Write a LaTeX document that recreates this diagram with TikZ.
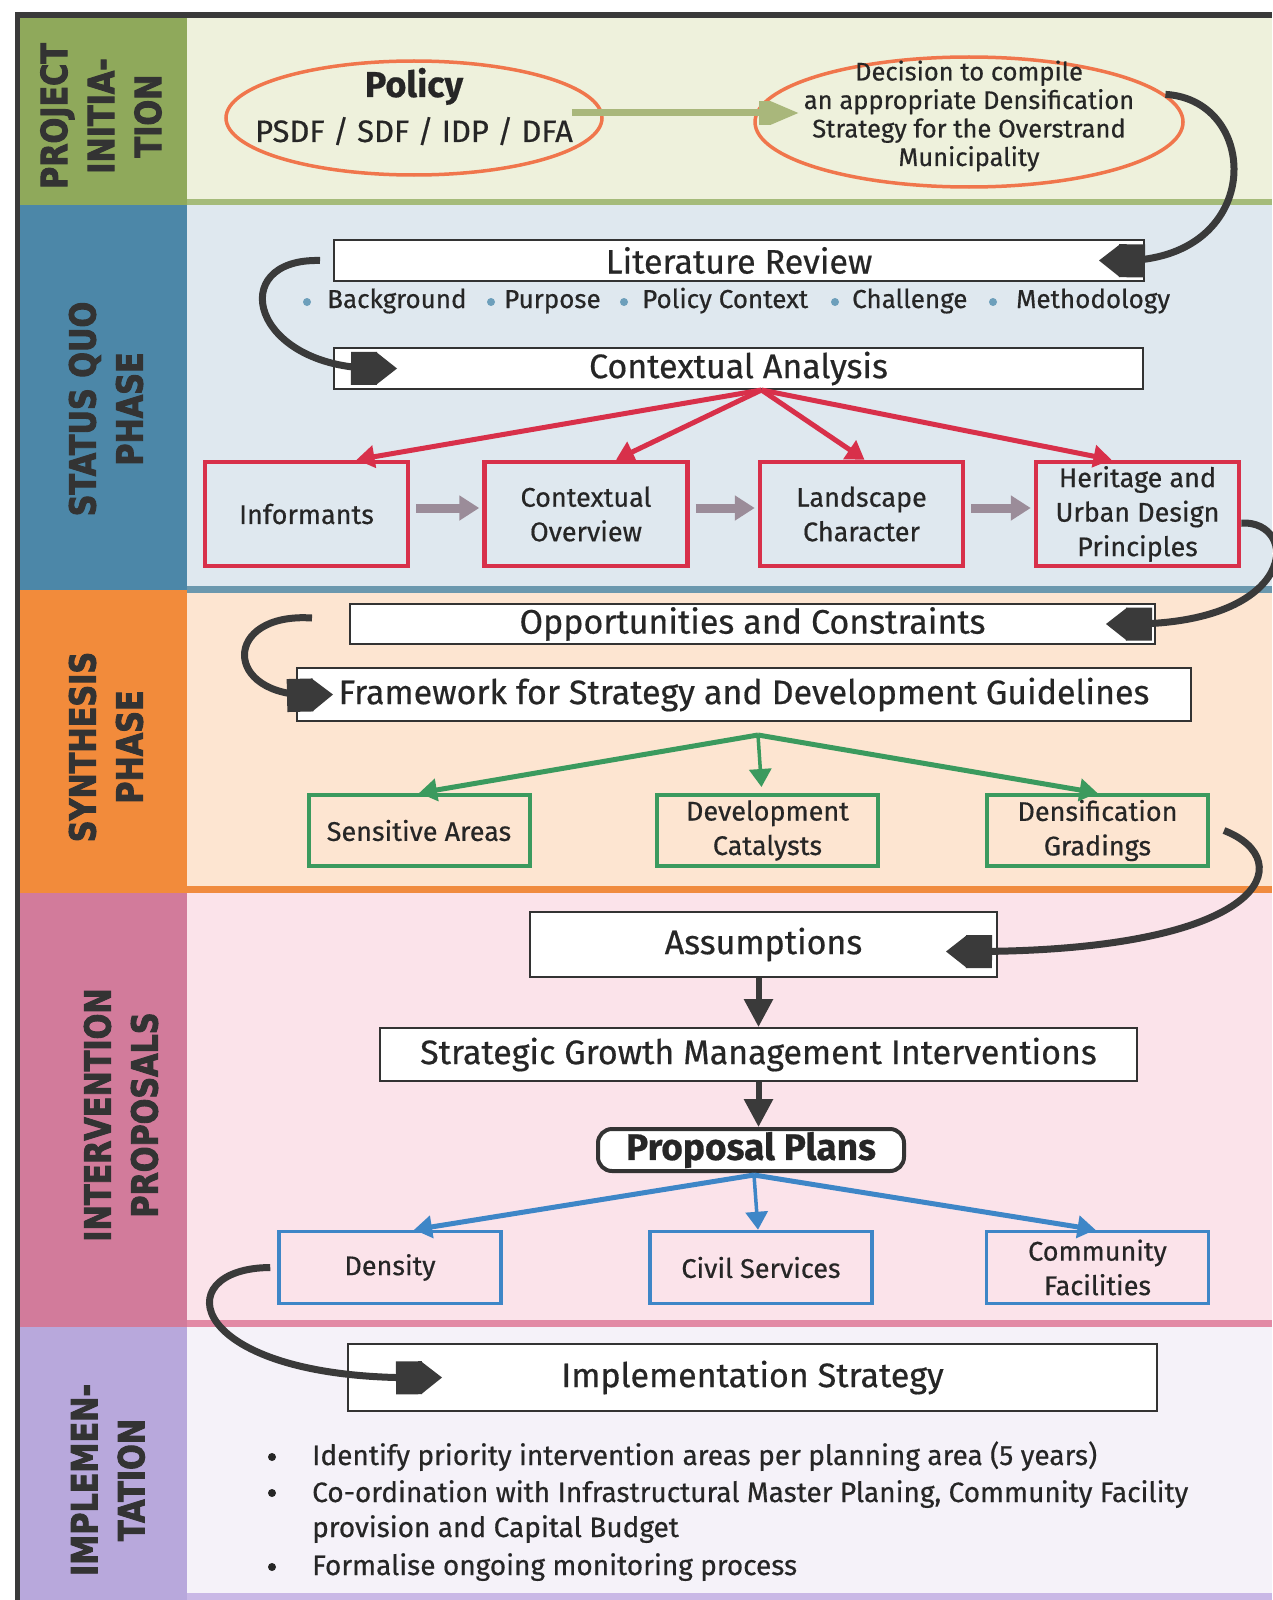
\documentclass[tikz,border=0pt]{standalone}
\usepackage{fontspec}
\setmainfont{Fira Sans}[FakeBold=0.5]
\newfontfamily\labfont[FakeStretch=0.84,FakeBold=2.5]{DejaVu Sans}
\usetikzlibrary{arrows.meta,shapes.geometric,calc}
\definecolor{framedark}{HTML}{3A3A3A}
\definecolor{labA}{HTML}{8FA95B}\definecolor{bgA}{HTML}{EEF1DC}\definecolor{sepA}{HTML}{A5BB7A}
\definecolor{labB}{HTML}{4C87A8}\definecolor{bgB}{HTML}{DFE8EF}\definecolor{sepB}{HTML}{6B98AE}
\definecolor{labC}{HTML}{F28B3B}\definecolor{bgC}{HTML}{FDE5D1}\definecolor{sepC}{HTML}{F08B3F}
\definecolor{labD}{HTML}{D27B9B}\definecolor{bgD}{HTML}{FBE3EA}\definecolor{sepD}{HTML}{E28AA5}
\definecolor{labE}{HTML}{B8A8DC}\definecolor{bgE}{HTML}{F5F2F9}\definecolor{sepE}{HTML}{C9B8E6}
\definecolor{redc}{HTML}{D8304A}
\definecolor{greenc}{HTML}{3B9A5E}
\definecolor{bluec}{HTML}{3E86C7}
\definecolor{grayarr}{HTML}{9B8C99}
\definecolor{olivearr}{HTML}{A9B77B}
\definecolor{ellc}{HTML}{F0764C}
\definecolor{darkc}{HTML}{3A3A3A}
\definecolor{boxline}{HTML}{333333}
\definecolor{dotc}{HTML}{6D9FBB}
\definecolor{labtext}{HTML}{333333}
\definecolor{txt}{HTML}{262626}
\tikzset{
  wbox/.style={draw=boxline, line width=2pt, fill=white, inner sep=0pt, text=txt,
    font=\fontsize{34}{40}\selectfont},
  cbox/.style={line width=4pt, inner sep=0pt, align=center, text=txt,
    font=\fontsize{27}{34.5}\selectfont},
  rbox/.style={cbox, draw=redc, fill=bgB, line width=4.5pt, minimum width=203pt, minimum height=104pt},
  gbox/.style={cbox, draw=greenc, fill=bgC, minimum width=221pt, minimum height=71pt},
  bbox/.style={cbox, draw=bluec, fill=bgD, line width=3.5pt, minimum width=222pt, minimum height=72pt},
  ell/.style={ellipse, draw=ellc, line width=3.5pt, inner sep=0pt},
  curv/.style={draw=darkc, line width=7pt,
    -{Rectangle[length=26pt,width=33pt,sep=-1pt,line width=0pt,quick]Triangle[length=21pt,width=33pt,line width=0pt,quick]}},
  redarr/.style={draw=redc, line width=5pt, -{Triangle[length=18pt,width=22pt]}},
  grnarr/.style={draw=greenc, line width=5pt, -{Triangle[length=18pt,width=22pt]}},
  bluarr/.style={draw=bluec, line width=5pt, -{Triangle[length=18pt,width=22pt]}},
  grayar/.style={draw=grayarr, line width=9pt, -{Triangle[length=20pt,width=24pt]}},
  blkarr/.style={draw=darkc, line width=6pt, -{Triangle[length=28pt,width=28pt]}},
  lab/.style={rotate=90, align=center, text=labtext, inner sep=0pt,
    font=\labfont\bfseries\fontsize{36}{47}\selectfont},
  txtn/.style={inner sep=0pt, text=txt},
}
\begin{document}
\begin{tikzpicture}[x=1pt,y=-1pt]
\useasboundingbox (0,0) rectangle (1272,1600);
\fill[white] (0,0) rectangle (1272,1600);
% bands
\fill[bgA] (187,18) rectangle (1272,200);
\fill[sepA] (187,199) rectangle (1272,205);
\fill[bgB] (187,205) rectangle (1272,587);
\fill[sepB] (187,586) rectangle (1272,593);
\fill[bgC] (187,593) rectangle (1272,887);
\fill[sepC] (187,886) rectangle (1272,893);
\fill[bgD] (187,893) rectangle (1272,1320);
\fill[sepD] (187,1320) rectangle (1272,1327);
\fill[bgE] (187,1327) rectangle (1272,1600);
\fill[sepE] (187,1593) rectangle (1272,1600);
\fill[labA] (20,18) rectangle (187,205);
\fill[labB] (20,205) rectangle (187,590);
\fill[labC] (20,590) rectangle (187,893);
\fill[labD] (20,893) rectangle (187,1327);
\fill[labE] (20,1327) rectangle (187,1600);
\fill[framedark] (15,12) rectangle (1272,18);
\fill[framedark] (15,12) rectangle (20,1600);
% phase labels
\node[lab] (l1) at (101,116) {PROJECT\\INITIA-\\TION};
\node[lab] (l2) at (106,409) {STATUS QUO\\PHASE};
\node[lab] (l3) at (106,747) {SYNTHESIS\\PHASE};
\node[lab] (l4) at (121,1115) {INTERVENTION\\PROPOSALS};
\node[lab] (l5) at (108,1480) {IMPLEMEN-\\TATION};

% project initiation
\node[ell, minimum width=376pt, minimum height=114pt] (pol) at (414,118) {};
\node[txtn, anchor=base, font=\fontsize{36}{40}\selectfont\bfseries] (poltitle) at (414,97) {Policy};
\node[txtn, anchor=base, font=\fontsize{31}{36}\selectfont] (polsub) at (414,142) {PSDF / SDF / IDP / DFA};
\node[ell, minimum width=428pt, minimum height=130pt] (dec) at (969,122) {};
\node[txtn, align=center, font=\fontsize{25.5}{28.5}\selectfont] (dectxt) at (969,116)
  {Decision to compile\\an appropriate Densification\\Strategy for the Overstrand\\Municipality};
\draw[draw=olivearr, line width=7pt,
  -{Rectangle[length=12pt,width=24pt,sep=-1pt,line width=0pt]Triangle[length=28pt,width=24pt,line width=0pt]}]
  ($(pol.east)+(-32,-5)$) -- ($(dec.west)+(45,-9)$);

% status quo
\node[wbox, minimum width=810pt, minimum height=41pt] (lit) at (739,260.5) {Literature Review};
\foreach \dx/\tx/\nm [count=\i] in {307/327/Background, 491/504/Purpose, 624/642/Policy Context, 835/852/Challenge, 993/1016/Methodology}{
  \node[circle, fill=dotc, inner sep=0pt, minimum size=8pt] (dot\i) at (\dx,302) {};
  \node[txtn, anchor=base west, font=\fontsize{26}{30}\selectfont] (item\i) at (\tx,308) {\nm};
}
\node[wbox, minimum width=809pt, minimum height=41pt] (ca) at (738.5,368.5) {Contextual Analysis};
\node[rbox] (inf) at (306.5,514) {Informants};
\node[rbox] (cov) at (586,514) {Contextual\\Overview};
\node[rbox] (lsc) at (861.5,514) {Landscape\\Character};
\node[rbox] (her) at (1137.5,514) {Heritage and\\Urban Design\\Principles};
\draw[redarr] ([xshift=23pt]ca.south) -- ([xshift=50pt]inf.north);
\draw[redarr] ([xshift=23pt]ca.south) -- ([xshift=30pt]cov.north);
\draw[redarr] ([xshift=23pt]ca.south) -- ([xshift=3pt]lsc.north);
\draw[redarr] ([xshift=23pt]ca.south) -- ([xshift=-26pt]her.north);
\draw[grayar, shorten <=6pt, shorten >=3pt] ([yshift=6pt]inf.east) -- ([yshift=6pt]cov.west);
\draw[grayar, shorten <=6pt, shorten >=3pt] ([yshift=6pt]cov.east) -- ([yshift=6pt]lsc.west);
\draw[grayar, shorten <=6pt, shorten >=3pt] ([yshift=6pt]lsc.east) -- ([yshift=6pt]her.west);
\draw[curv] (dec.8) .. controls (1262,100) and (1265,262) .. ([xshift=-46pt]lit.east);
\draw[curv] ([xshift=-13pt]lit.west) .. controls (225,258) and (250,368) .. ([xshift=64pt]ca.west);

% synthesis
\node[wbox, minimum width=805pt, minimum height=40pt] (opp) at (752.5,624) {Opportunities and Constraints};
\node[wbox, minimum width=894pt, minimum height=53pt] (fw) at (744,694.5) {Framework for Strategy and Development Guidelines};
\node[gbox] (sen) at (419,830.5) {Sensitive Areas};
\node[gbox] (dev) at (767.5,830.5) {Development\\Catalysts};
\node[gbox] (den) at (1097.5,830.5) {Densification\\Gradings};
\coordinate (fwo) at ($(fw.south)+(14,13)$);
\draw[grnarr] (fwo) -- (sen.north);
\draw[grnarr, line width=3.5pt] (fwo) -- ([xshift=-6pt,yshift=6pt]dev.north);
\draw[grnarr] (fwo) -- (den.north);
\draw[curv] ([yshift=-9pt]her.east) .. controls (1300,520) and (1300,625) .. ([xshift=-50pt]opp.east);
\draw[curv] ([xshift=-37pt,yshift=6pt]opp.west) .. controls (222,612) and (222,697) .. ([xshift=37pt]fw.west);

% intervention proposals
\node[wbox, minimum width=467pt, minimum height=65pt] (ass) at (763.5,944.5) {Assumptions};
\node[wbox, minimum width=757pt, minimum height=53pt] (sgmi) at (758.5,1054.5) {Strategic Growth Management Interventions};
\node[wbox, line width=4pt, rounded corners=14pt, minimum width=306pt, minimum height=42pt,
  font=\fontsize{37}{40}\selectfont\bfseries] (pp) at (751,1150) {Proposal Plans};
\node[bbox] (dens) at (390,1267.5) {Density};
\node[bbox] (civ) at (761,1267.5) {Civil Services};
\node[bbox] (com) at (1097.5,1267.5) {Community\\Facilities};
\draw[blkarr] (sgmi.north |- ass.south) -- (sgmi.north);
\draw[blkarr] (sgmi.south) -- (sgmi.south |- pp.north);
\coordinate (ppo) at ($(pp.south)+(3,2)$);
\draw[bluarr] (ppo) -- ([xshift=24pt]dens.north);
\draw[bluarr, line width=3.5pt] (ppo) -- ([xshift=-3pt]civ.north);
\draw[bluarr] (ppo) -- ([xshift=-2pt]com.north);
\draw[curv] ([xshift=14pt]den.east) .. controls (1300,860) and (1270,952) .. ([xshift=-52pt,yshift=-7pt]ass.east);

% implementation
\node[wbox, minimum width=809pt, minimum height=67pt] (impl) at (752.5,1377.5) {Implementation Strategy};
\draw[curv] ([xshift=-7pt]dens.west) .. controls (165,1268) and (185,1380) .. ([xshift=95pt]impl.west);
\foreach \yy in {1457,1493,1567}{\fill[txt] (272,\yy) circle (4pt);}
\node[txtn, anchor=base west, font=\fontsize{28}{35}\selectfont] (b1) at (312,1465) {Identify priority intervention areas per planning area (5 years)};
\node[txtn, anchor=base west, font=\fontsize{28}{35}\selectfont] (b2) at (312,1502) {Co-ordination with Infrastructural Master Planing, Community Facility};
\node[txtn, anchor=base west, font=\fontsize{28}{35}\selectfont] (b2b) at (312,1537) {provision and Capital Budget};
\node[txtn, anchor=base west, font=\fontsize{28}{35}\selectfont] (b3) at (312,1575) {Formalise ongoing monitoring process};
\end{tikzpicture}
\end{document}
